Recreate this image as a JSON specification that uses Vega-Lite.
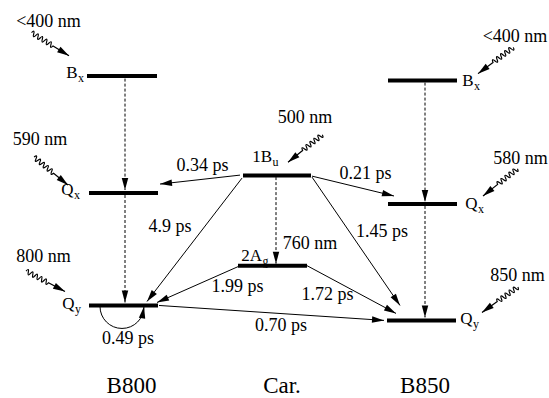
{
  "$schema": "https://vega.github.io/schema/vega-lite/v6.json",
  "width": 549,
  "height": 398,
  "autosize": {"type": "fit", "contains": "padding"},
  "padding": 0,
  "background": "white",
  "config": {"view": {"stroke": null}},
  "datasets": {
    "levels": [
      {"x": 87, "x2": 157, "y": 76.5},
      {"x": 89, "x2": 158, "y": 194},
      {"x": 89, "x2": 158, "y": 307},
      {"x": 243, "x2": 311, "y": 176.5},
      {"x": 238, "x2": 307, "y": 267},
      {"x": 388, "x2": 457, "y": 81},
      {"x": 388, "x2": 457, "y": 205},
      {"x": 387, "x2": 456, "y": 322}
    ],
    "arrows": [
      {"kind": "transfer", "x": 240, "y": 176, "x2": 160, "y2": 185},
      {"kind": "transfer", "x": 242, "y": 179, "x2": 147, "y2": 303},
      {"kind": "transfer", "x": 312, "y": 177, "x2": 394, "y2": 197},
      {"kind": "transfer", "x": 312, "y": 178, "x2": 400, "y2": 307},
      {"kind": "transfer", "x": 238, "y": 268, "x2": 157, "y2": 304},
      {"kind": "transfer", "x": 307, "y": 267, "x2": 396, "y2": 315},
      {"kind": "transfer", "x": 159, "y": 307, "x2": 384, "y2": 322},
      {"kind": "relax", "x": 125, "y": 79, "x2": 125, "y2": 191},
      {"kind": "relax", "x": 125, "y": 196, "x2": 125, "y2": 304},
      {"kind": "relax", "x": 425, "y": 83, "x2": 425, "y2": 203},
      {"kind": "relax", "x": 425, "y": 207, "x2": 425, "y2": 319},
      {"kind": "relax", "x": 276, "y": 178, "x2": 276, "y2": 265},
      {"kind": "light", "x": 30, "y": 32, "x2": 69, "y2": 56},
      {"kind": "light", "x": 28, "y": 153, "x2": 68, "y2": 186},
      {"kind": "light", "x": 25, "y": 272, "x2": 65, "y2": 293},
      {"kind": "light", "x": 323, "y": 135, "x2": 288, "y2": 163},
      {"kind": "light", "x": 513, "y": 48, "x2": 478, "y2": 74},
      {"kind": "light", "x": 517, "y": 170, "x2": 483, "y2": 197},
      {"kind": "light", "x": 513, "y": 292, "x2": 482, "y2": 314},
      {"kind": "loop", "x": 142, "y": 320, "x2": 144, "y2": 308}
    ],
    "labels": [
      {"x": 48.5, "y": 27, "text": "<400 nm"},
      {"x": 40, "y": 146, "text": "590 nm"},
      {"x": 43.5, "y": 263, "text": "800 nm"},
      {"x": 305, "y": 124, "text": "500 nm"},
      {"x": 515, "y": 42, "text": "<400 nm"},
      {"x": 520.5, "y": 165, "text": "580 nm"},
      {"x": 517.5, "y": 282, "text": "850 nm"},
      {"x": 310, "y": 250, "text": "760 nm"},
      {"x": 202.5, "y": 172, "text": "0.34 ps"},
      {"x": 170, "y": 233, "text": "4.9 ps"},
      {"x": 365.5, "y": 180, "text": "0.21 ps"},
      {"x": 382, "y": 238, "text": "1.45 ps"},
      {"x": 237.5, "y": 293, "text": "1.99 ps"},
      {"x": 327.5, "y": 302, "text": "1.72 ps"},
      {"x": 281, "y": 333, "text": "0.70 ps"},
      {"x": 128, "y": 346, "text": "0.49 ps"}
    ],
    "states": [
      {"x": 77.5, "y": 78.5, "main": "B", "sub": "x"},
      {"x": 73.5, "y": 196, "main": "Q", "sub": "x"},
      {"x": 74.5, "y": 311, "main": "Q", "sub": "y"},
      {"x": 272, "y": 163, "main": "1B", "sub": "u"},
      {"x": 262, "y": 262, "main": "2A", "sub": "g"},
      {"x": 473.5, "y": 86, "main": "B", "sub": "x"},
      {"x": 477.5, "y": 210, "main": "Q", "sub": "x"},
      {"x": 472.5, "y": 326, "main": "Q", "sub": "y"}
    ],
    "groups": [
      {"x": 131.5, "y": 395, "text": "B800"},
      {"x": 282, "y": 395, "text": "Car."},
      {"x": 425, "y": 395, "text": "B850"}
    ]
  },
  "layer": [
    {
      "data": {"name": "arrows"},
      "transform": [{"filter": "datum.kind === 'relax'"}],
      "mark": {"type": "rule", "color": "black", "strokeWidth": 1, "strokeDash": [3, 2]},
      "encoding": {
        "x": {"field": "x", "type": "quantitative", "scale": {"domain": [0, 549], "nice": false, "zero": false}, "axis": null},
        "y": {"field": "y", "type": "quantitative", "scale": {"domain": [0, 398], "nice": false, "zero": false, "reverse": true}, "axis": null},
        "x2": {"field": "x2"},
        "y2": {"field": "y2"}
      }
    },
    {
      "data": {"name": "arrows"},
      "transform": [{"filter": "datum.kind === 'transfer'"}],
      "mark": {"type": "rule", "color": "black", "strokeWidth": 1},
      "encoding": {
        "x": {"field": "x", "type": "quantitative", "scale": {"domain": [0, 549], "nice": false, "zero": false}, "axis": null},
        "y": {"field": "y", "type": "quantitative", "scale": {"domain": [0, 398], "nice": false, "zero": false, "reverse": true}, "axis": null},
        "x2": {"field": "x2"},
        "y2": {"field": "y2"}
      }
    },
    {
      "data": {"name": "levels"},
      "mark": {"type": "rule", "color": "black", "strokeWidth": 4, "strokeCap": "butt"},
      "encoding": {
        "x": {"field": "x", "type": "quantitative", "scale": {"domain": [0, 549], "nice": false, "zero": false}, "axis": null},
        "y": {"field": "y", "type": "quantitative", "scale": {"domain": [0, 398], "nice": false, "zero": false, "reverse": true}, "axis": null},
        "x2": {"field": "x2"}
      }
    },
    {
      "data": {"name": "arrows"},
      "transform": [
        {"filter": "datum.kind === 'light'"},
        {"calculate": "atan2(datum.y2 - datum.y, datum.x2 - datum.x) * 180 / PI", "as": "angle"}
      ],
      "mark": {
        "type": "point",
        "filled": false,
        "color": "black",
        "opacity": 1,
        "strokeWidth": 1.2,
        "size": 1936,
        "shape": "M-2,0Q-1.9425,-0.22,-1.885,0T-1.77,0T-1.655,0T-1.54,0T-1.425,0T-1.31,0T-1.195,0T-1.08,0T-0.965,0T-0.85,0L0,0"
      },
      "encoding": {
        "x": {"field": "x2", "type": "quantitative", "scale": {"domain": [0, 549], "nice": false, "zero": false}, "axis": null},
        "y": {"field": "y2", "type": "quantitative", "scale": {"domain": [0, 398], "nice": false, "zero": false, "reverse": true}, "axis": null},
        "angle": {"field": "angle", "type": "quantitative", "scale": null}
      }
    },
    {
      "data": {"name": "arrows"},
      "transform": [{"filter": "datum.kind === 'loop'"}],
      "mark": {
        "type": "point",
        "filled": false,
        "color": "black",
        "opacity": 1,
        "strokeWidth": 1,
        "size": 1936,
        "shape": "M-2,0A1,1,0,0,0,0,0"
      },
      "encoding": {
        "x": {"field": "x2", "type": "quantitative", "scale": {"domain": [0, 549], "nice": false, "zero": false}, "axis": null},
        "y": {"field": "y2", "type": "quantitative", "scale": {"domain": [0, 398], "nice": false, "zero": false, "reverse": true}, "axis": null}
      }
    },
    {
      "data": {"name": "arrows"},
      "transform": [
        {"calculate": "atan2(datum.y2 - datum.y, datum.x2 - datum.x) * 180 / PI", "as": "angle"}
      ],
      "mark": {
        "type": "point",
        "filled": true,
        "color": "black",
        "opacity": 1,
        "strokeWidth": 0,
        "size": 576,
        "shape": "M0,0L-1,-0.27L-1,0.27Z"
      },
      "encoding": {
        "x": {"field": "x2", "type": "quantitative", "scale": {"domain": [0, 549], "nice": false, "zero": false}, "axis": null},
        "y": {"field": "y2", "type": "quantitative", "scale": {"domain": [0, 398], "nice": false, "zero": false, "reverse": true}, "axis": null},
        "angle": {"field": "angle", "type": "quantitative", "scale": null}
      }
    },
    {
      "data": {"name": "labels"},
      "mark": {"type": "text", "font": "Liberation Serif", "fontSize": 18, "color": "black", "align": "center", "baseline": "alphabetic"},
      "encoding": {
        "x": {"field": "x", "type": "quantitative", "scale": {"domain": [0, 549], "nice": false, "zero": false}, "axis": null},
        "y": {"field": "y", "type": "quantitative", "scale": {"domain": [0, 398], "nice": false, "zero": false, "reverse": true}, "axis": null},
        "text": {"field": "text"}
      }
    },
    {
      "data": {"name": "states"},
      "mark": {"type": "text", "font": "Liberation Serif", "fontSize": 17, "color": "black", "align": "right", "baseline": "alphabetic"},
      "encoding": {
        "x": {"field": "x", "type": "quantitative", "scale": {"domain": [0, 549], "nice": false, "zero": false}, "axis": null},
        "y": {"field": "y", "type": "quantitative", "scale": {"domain": [0, 398], "nice": false, "zero": false, "reverse": true}, "axis": null},
        "text": {"field": "main"}
      }
    },
    {
      "data": {"name": "states"},
      "mark": {"type": "text", "font": "Liberation Serif", "fontSize": 12, "color": "black", "align": "left", "baseline": "alphabetic", "dx": 0.5, "dy": 4},
      "encoding": {
        "x": {"field": "x", "type": "quantitative", "scale": {"domain": [0, 549], "nice": false, "zero": false}, "axis": null},
        "y": {"field": "y", "type": "quantitative", "scale": {"domain": [0, 398], "nice": false, "zero": false, "reverse": true}, "axis": null},
        "text": {"field": "sub"}
      }
    },
    {
      "data": {"name": "groups"},
      "mark": {"type": "text", "font": "Liberation Serif", "fontSize": 23, "color": "black", "align": "center", "baseline": "alphabetic"},
      "encoding": {
        "x": {"field": "x", "type": "quantitative", "scale": {"domain": [0, 549], "nice": false, "zero": false}, "axis": null},
        "y": {"field": "y", "type": "quantitative", "scale": {"domain": [0, 398], "nice": false, "zero": false, "reverse": true}, "axis": null},
        "text": {"field": "text"}
      }
    }
  ]
}
